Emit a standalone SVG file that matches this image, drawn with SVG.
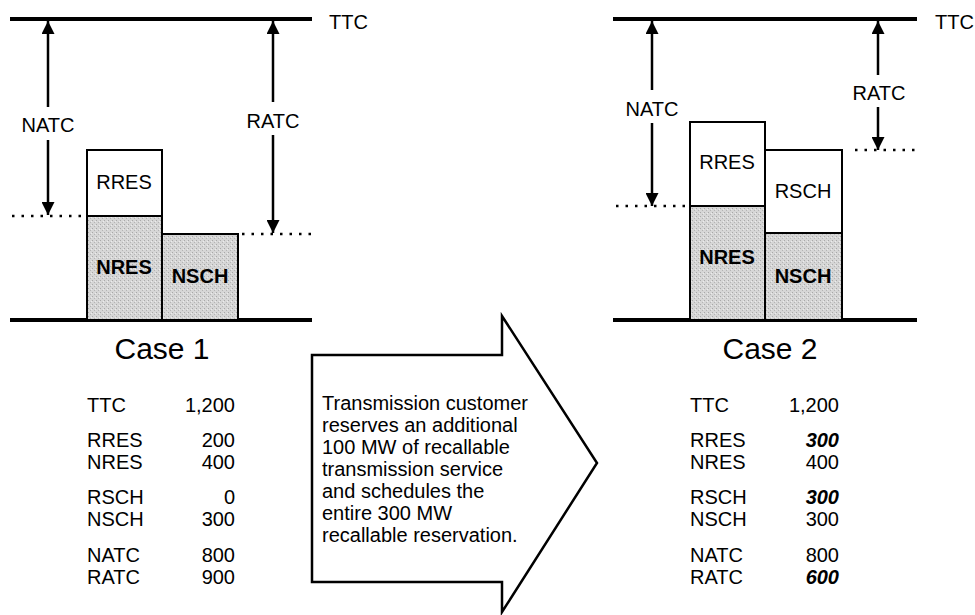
<svg xmlns="http://www.w3.org/2000/svg" width="975" height="615" viewBox="0 0 975 615">
<style>
text{font-family:"Liberation Sans",Arial,sans-serif;font-size:20px;fill:#000}
.c{text-anchor:middle}
.r{text-anchor:end}
.b{font-weight:bold}
.bi{font-weight:bold;font-style:italic}
.title{font-size:30px;text-anchor:middle}
.base{stroke:#000;stroke-width:4;fill:none}
.box{stroke:#000;stroke-width:2}
.w{fill:#fff}
.g{fill:url(#stip)}
.dot{stroke:#000;stroke-width:2.5;stroke-dasharray:2.5 7;fill:none}
.arr{stroke:#000;stroke-width:2.5;fill:none;marker-end:url(#ah)}
</style>
<defs>
<pattern id="stip" width="4" height="4" patternUnits="userSpaceOnUse">
<rect width="4" height="4" fill="#d6d6d6"/>
<rect x="0" y="0" width="1" height="1" fill="#a8a8a8"/>
<rect x="2" y="2" width="1" height="1" fill="#b4b4b4"/>
<rect x="3" y="1" width="1" height="1" fill="#ececec"/>
</pattern>
<marker id="ah" markerUnits="userSpaceOnUse" markerWidth="14" markerHeight="13" refX="13" refY="6.5" orient="auto">
<path d="M0,0 L13,6.5 L0,13 z" fill="#000"/>
</marker>
</defs>
<rect width="975" height="615" fill="#fff"/>

<g id="case1">
<line class="base" x1="10" y1="19" x2="312" y2="19"/>
<line class="base" x1="10" y1="320" x2="312" y2="320"/>
<text x="329" y="29">TTC</text>
<g id="c1-rres"><rect class="box w" x="87" y="150" width="75" height="66"/><text class="c" x="124" y="189">RRES</text></g>
<g id="c1-nres"><rect class="box g" x="87" y="216" width="75" height="104"/><text class="c b" x="124" y="274">NRES</text></g>
<g id="c1-nsch"><rect class="box g" x="162" y="234" width="76" height="86"/><text class="c b" x="200" y="283">NSCH</text></g>
<text class="c" x="48" y="132">NATC</text>
<text class="c" x="273" y="128">RATC</text>
<text class="title" x="162" y="359">Case 1</text>
</g>

<g id="case2">
<line class="base" x1="613" y1="19" x2="917" y2="19"/>
<line class="base" x1="613" y1="320" x2="917" y2="320"/>
<text x="935" y="29">TTC</text>
<g id="c2-rres"><rect class="box w" x="690" y="122" width="75" height="84"/><text class="c" x="727" y="169">RRES</text></g>
<g id="c2-nres"><rect class="box g" x="690" y="206" width="75" height="114"/><text class="c b" x="727" y="264">NRES</text></g>
<g id="c2-rsch"><rect class="box w" x="765" y="150" width="77" height="83"/><text class="c" x="803" y="198">RSCH</text></g>
<g id="c2-nsch"><rect class="box g" x="765" y="233" width="77" height="87"/><text class="c b" x="803" y="283">NSCH</text></g>
<text class="c" x="652" y="116">NATC</text>
<text class="c" x="879" y="100">RATC</text>
<text class="title" x="770" y="359">Case 2</text>
</g>

<g id="connectors">
<line class="arr" x1="48" y1="107" x2="48" y2="21"/>
<line class="arr" x1="48" y1="140" x2="48" y2="215"/>
<line class="arr" x1="273" y1="102" x2="273" y2="21"/>
<line class="arr" x1="273" y1="135" x2="273" y2="233"/>
<line class="dot" x1="12" y1="216" x2="86" y2="216"/>
<line class="dot" x1="242" y1="234" x2="312" y2="234"/>
<line class="arr" x1="652" y1="90" x2="652" y2="21"/>
<line class="arr" x1="652" y1="123" x2="652" y2="206"/>
<line class="arr" x1="878" y1="75" x2="878" y2="21"/>
<line class="arr" x1="878" y1="107" x2="878" y2="150"/>
<line class="dot" x1="616" y1="206" x2="689" y2="206"/>
<line class="dot" x1="855" y1="150" x2="917" y2="150"/>
</g>

<g id="bigarrow">
<path d="M312,355 L502,355 L502,316 L597,463 L502,612 L502,582 L312,582 Z" fill="#fff" stroke="#000" stroke-width="2.5" stroke-linejoin="miter"/>
<text x="322" y="410">Transmission customer</text>
<text x="322" y="432">reserves an additional</text>
<text x="322" y="454">100 MW of recallable</text>
<text x="322" y="476">transmission service</text>
<text x="322" y="498">and schedules the</text>
<text x="322" y="520">entire 300 MW</text>
<text x="322" y="542">recallable reservation.</text>
</g>

<g id="table1">
<text x="87" y="412">TTC</text><text class="r" x="235" y="412">1,200</text>
<text x="87" y="447">RRES</text><text class="r" x="235" y="447">200</text>
<text x="87" y="469">NRES</text><text class="r" x="235" y="469">400</text>
<text x="87" y="504">RSCH</text><text class="r" x="235" y="504">0</text>
<text x="87" y="526">NSCH</text><text class="r" x="235" y="526">300</text>
<text x="87" y="562">NATC</text><text class="r" x="235" y="562">800</text>
<text x="87" y="584">RATC</text><text class="r" x="235" y="584">900</text>
</g>

<g id="table2">
<text x="690" y="412">TTC</text><text class="r" x="839" y="412">1,200</text>
<text x="690" y="447">RRES</text><text class="r bi" x="839" y="447">300</text>
<text x="690" y="469">NRES</text><text class="r" x="839" y="469">400</text>
<text x="690" y="504">RSCH</text><text class="r bi" x="839" y="504">300</text>
<text x="690" y="526">NSCH</text><text class="r" x="839" y="526">300</text>
<text x="690" y="562">NATC</text><text class="r" x="839" y="562">800</text>
<text x="690" y="584">RATC</text><text class="r bi" x="839" y="584">600</text>
</g>
</svg>
